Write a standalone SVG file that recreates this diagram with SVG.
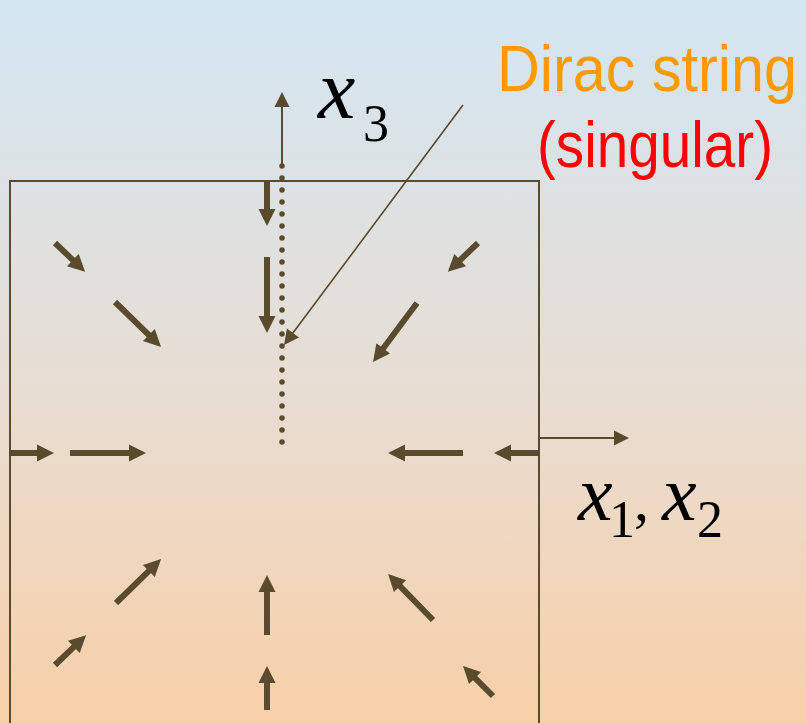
<svg xmlns="http://www.w3.org/2000/svg" width="806" height="723" viewBox="0 0 806 723">
  <defs>
    <linearGradient id="bg" x1="0" y1="0" x2="0" y2="1">
      <stop offset="0" stop-color="#d3e6f3"/>
      <stop offset="0.55" stop-color="#e8ddd2"/>
      <stop offset="1" stop-color="#f8d0a8"/>
    </linearGradient>
    <marker id="thick" markerUnits="userSpaceOnUse" markerWidth="20" markerHeight="20" refX="7" refY="0" orient="auto" overflow="visible">
      <path d="M0,-8.5 L17,0 L0,8.5 z" fill="#5a4a2e"/>
    </marker>
    <marker id="thin" markerUnits="userSpaceOnUse" markerWidth="16" markerHeight="16" refX="11" refY="0" orient="auto" overflow="visible">
      <path d="M0,-7.5 L15,0 L0,7.5 z" fill="#5a4a2e"/>
    </marker>
  </defs>
  <style>
    .f { stroke: #5a4a2e; stroke-width: 6; fill: none; marker-end: url(#thick); }
    .ax { stroke: #5a4a2e; stroke-width: 2; fill: none; }
    .math { font-family: "Liberation Serif", "Times New Roman", serif; font-style: italic; fill: #000; }
    .sub { font-family: "Liberation Serif", "Times New Roman", serif; font-style: normal; fill: #000; }
    .lbl { font-family: "Liberation Sans", Arial, sans-serif; }
  </style>
  <rect x="0" y="0" width="806" height="723" fill="url(#bg)"/>

  <g id="box">
    <path d="M10,735 L10,181 L539,181 L539,735" class="ax"/>
  </g>

  <g id="axes">
    <line x1="282" y1="166" x2="282" y2="96" class="ax" marker-end="url(#thin)"/>
    <line x1="539" y1="438" x2="625" y2="438" class="ax" marker-end="url(#thin)"/>
    <line x1="282" y1="166" x2="282" y2="443" stroke="#5a4a2e" stroke-width="5.5" stroke-linecap="round" stroke-dasharray="0 12"/>
  </g>

  <g id="connectors">
    <line x1="463" y1="105" x2="286.4" y2="341.8" stroke="#5a4a2e" stroke-width="1.6" marker-end="url(#thin)"/>
    <line class="f" x1="267" y1="180" x2="267" y2="216"/>
    <line class="f" x1="267" y1="257" x2="267" y2="323"/>
    <line class="f" x1="267" y1="635" x2="267" y2="585"/>
    <line class="f" x1="267" y1="710" x2="267" y2="676"/>
    <line class="f" x1="10" y1="453" x2="44" y2="453"/>
    <line class="f" x1="70" y1="453" x2="136" y2="453"/>
    <line class="f" x1="463" y1="453" x2="398" y2="453"/>
    <line class="f" x1="539" y1="453" x2="504" y2="453"/>
    <line class="f" x1="55" y1="243" x2="77.9" y2="264.9"/>
    <line class="f" x1="115" y1="302" x2="153.9" y2="339.9"/>
    <line class="f" x1="478" y1="243" x2="455.1" y2="264.9"/>
    <line class="f" x1="417" y1="303" x2="379" y2="354"/>
    <line class="f" x1="55" y1="665" x2="78.9" y2="642.1"/>
    <line class="f" x1="116" y1="603" x2="153.9" y2="566.1"/>
    <line class="f" x1="433" y1="620" x2="395.1" y2="581.1"/>
    <line class="f" x1="493" y1="696" x2="470.1" y2="673.1"/>
  </g>

  <g id="labels">
    <text x="318" y="118" class="math" font-size="84">x<tspan class="sub" font-size="52" x="363" y="141">3</tspan></text>
    <text x="578" y="520" class="math" font-size="78">x<tspan class="sub" font-size="52" x="609" y="537">1</tspan><tspan class="sub" font-size="60" x="634" y="520">,</tspan><tspan x="662" y="520">x</tspan><tspan class="sub" font-size="52" x="697" y="537">2</tspan></text>
    <text x="497" y="91" class="lbl" font-size="64" fill="#ff9900" textLength="300" lengthAdjust="spacingAndGlyphs">Dirac string</text>
    <text x="537" y="167" class="lbl" font-size="64" fill="#ff0000" textLength="236" lengthAdjust="spacingAndGlyphs">(singular)</text>
  </g>
</svg>
